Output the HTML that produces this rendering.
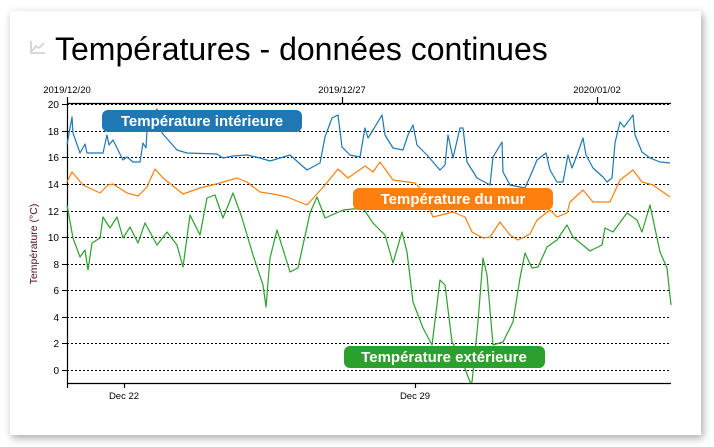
<!DOCTYPE html>
<html><head><meta charset="utf-8"><style>
html,body{margin:0;padding:0;background:#fff;width:714px;height:447px;overflow:hidden}
.card{position:absolute;left:10px;top:11px;width:691px;height:424px;background:#fff;box-shadow:2px 3px 8px rgba(0,0,0,0.35)}
svg{position:absolute;left:0;top:0}
text{font-family:"Liberation Sans",Arial,sans-serif}
</style></head><body>
<div class="card"></div>
<svg width="714" height="447" viewBox="0 0 714 447">
<polyline points="31,41 31,53 45,53" fill="none" stroke="#ccc" stroke-width="1.5"/>
<polyline points="32,51 36,46 39,48 44,43" fill="none" stroke="#ccc" stroke-width="1.5"/>
<text x="55" y="60" font-size="32" fill="#000">Températures - données continues</text>
<g stroke="#000" stroke-width="1" stroke-dasharray="2,2">
<line x1="67" x2="671" y1="104.5" y2="104.5"/><line x1="67" x2="671" y1="131.5" y2="131.5"/><line x1="67" x2="671" y1="157.5" y2="157.5"/><line x1="67" x2="671" y1="184.5" y2="184.5"/><line x1="67" x2="671" y1="211.5" y2="211.5"/><line x1="67" x2="671" y1="237.5" y2="237.5"/><line x1="67" x2="671" y1="264.5" y2="264.5"/><line x1="67" x2="671" y1="290.5" y2="290.5"/><line x1="67" x2="671" y1="317.5" y2="317.5"/><line x1="67" x2="671" y1="343.5" y2="343.5"/><line x1="67" x2="671" y1="370.5" y2="370.5"/>
</g>
<g stroke="#000" stroke-width="1.2" fill="none">
<line x1="67.5" y1="97" x2="67.5" y2="388"/>
<line x1="67" y1="103.5" x2="671" y2="103.5"/>
<line x1="67" y1="383.5" x2="671" y2="383.5"/>
<line x1="342.5" y1="97" x2="342.5" y2="103"/><line x1="597.5" y1="97" x2="597.5" y2="103"/>
<line x1="124.5" y1="383" x2="124.5" y2="388"/><line x1="415.5" y1="383" x2="415.5" y2="388"/>
<g stroke-width="1"><line x1="62" x2="67" y1="104.5" y2="104.5"/><line x1="62" x2="67" y1="131.5" y2="131.5"/><line x1="62" x2="67" y1="157.5" y2="157.5"/><line x1="62" x2="67" y1="184.5" y2="184.5"/><line x1="62" x2="67" y1="211.5" y2="211.5"/><line x1="62" x2="67" y1="237.5" y2="237.5"/><line x1="62" x2="67" y1="264.5" y2="264.5"/><line x1="62" x2="67" y1="290.5" y2="290.5"/><line x1="62" x2="67" y1="317.5" y2="317.5"/><line x1="62" x2="67" y1="343.5" y2="343.5"/><line x1="62" x2="67" y1="370.5" y2="370.5"/></g>
</g>
<g font-size="10" fill="#000" text-anchor="end">
<text x="59" y="108">20</text><text x="59" y="135">18</text><text x="59" y="161">16</text><text x="59" y="188">14</text><text x="59" y="215">12</text><text x="59" y="241">10</text><text x="59" y="268">8</text><text x="59" y="294">6</text><text x="59" y="321">4</text><text x="59" y="347">2</text><text x="59" y="374">0</text>
</g>
<g font-size="9.5" fill="#000" text-anchor="middle">
<text x="67" y="93">2019/12/20</text><text x="342" y="93">2019/12/27</text><text x="597" y="93">2020/01/02</text>
<text x="124" y="399">Dec 22</text><text x="415" y="399">Dec 29</text>
</g>
<text transform="translate(37,244) rotate(-90)" font-size="10.5" fill="#4a1020" text-anchor="middle">Température (°C)</text>
<g fill="none" stroke-width="1.2" stroke-linejoin="round">
<polyline stroke="#1f77b4" points="67,145 72,117 73,133 80,153 85,144 87,153 103,153 107,135 109,145 113,140 118,150 123,160 127,157 133,162 140,162 143,143 146,148 147,130 157,109 162,133 170,142 177,150 187,153 217,154 223,158 233,156 247,155 260,158 270,161 290,155 307,170 320,163 325,137 332,118 338,115 342,147 350,155 360,157 365,128 368,138 373,130 382,115 385,135 393,148 403,150 408,135 413,125 417,145 427,155 433,162 440,170 445,165 448,135 453,158 460,128 463,128 467,162 477,178 490,185 493,157 502,142 503,172 510,185 525,188 532,172 537,160 546,153 550,170 557,182 563,182 568,155 572,168 577,155 583,138 586,155 593,168 603,177 607,182 612,178 615,143 620,122 624,127 633,115 635,135 642,152 650,158 660,162 670,163"/>
<polyline stroke="#ff7f0e" points="67,182 72,172 83,185 100,193 108,185 113,184 127,193 138,196 147,187 155,169 163,178 183,194 200,188 220,183 237,178 247,182 260,192 273,194 287,197 307,205 325,185 338,169 348,178 365,166 373,172 380,162 393,180 415,183 420,188 433,217 453,212 465,217 472,232 483,238 490,237 500,222 510,235 518,240 530,234 537,220 550,210 557,217 567,213 570,202 583,190 593,202 610,202 620,180 633,170 642,182 653,185 670,197"/>
<polyline stroke="#2ca02c" points="67,205 73,238 80,257 85,250 88,270 92,243 100,238 103,217 110,228 117,217 123,238 130,227 138,243 145,223 157,245 167,232 177,245 183,267 190,215 200,235 207,198 215,195 223,218 233,193 242,218 253,255 263,285 266,307 270,258 277,230 290,272 298,268 310,213 317,197 325,218 343,210 363,208 373,223 385,235 393,263 402,232 407,252 413,302 423,328 432,345 440,280 445,285 452,342 460,355 470,382 472,382 478,322 483,258 487,275 493,345 503,342 513,322 520,278 525,253 532,268 538,267 547,247 557,240 567,225 573,237 590,251 602,245 605,228 613,232 627,213 637,220 642,232 650,205 660,252 667,268 671,305"/>
</g>
<g font-size="15" font-weight="bold" fill="#fff" text-anchor="middle">
<rect x="102" y="110" width="200" height="22" rx="6" fill="#1f77b4"/><text x="202" y="126">Température intérieure</text>
<rect x="353" y="188" width="200" height="22" rx="6" fill="#ff7f0e"/><text x="453" y="204">Température du mur</text>
<rect x="344" y="346" width="201" height="22" rx="6" fill="#2ca02c"/><text x="444" y="362">Température extérieure</text>
</g>
</svg>
</body></html>
